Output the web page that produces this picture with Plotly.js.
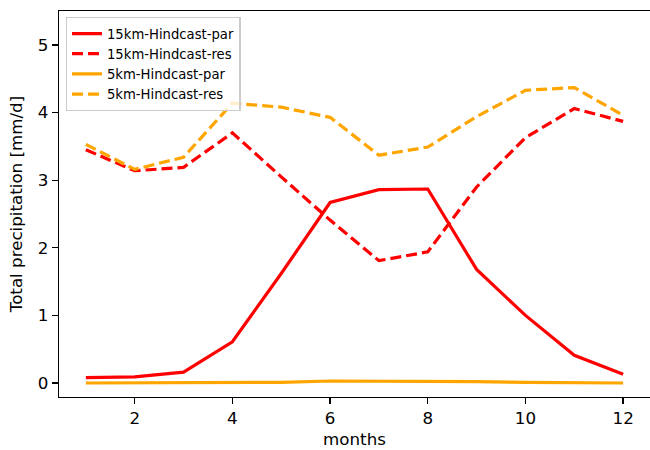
<!DOCTYPE html>
<html>
<head>
<script src="https://cdn.plot.ly/plotly-3.0.1.min.js"></script>
<style>body{margin:0;padding:0;background:#fff;overflow:hidden}</style>
</head>
<body>
<div id="chart" style="width:650px;height:450px"></div>
<script>
const months = [1,2,3,4,5,6,7,8,9,10,11,12];
const par15 = [0.08,0.09,0.16,0.61,1.62,2.67,2.86,2.87,1.68,1.00,0.41,0.13];
const res15 = [3.45,3.14,3.19,3.70,3.05,2.41,1.81,1.94,2.90,3.63,4.06,3.87];
const par5  = [0.00,0.00,0.00,0.00,0.01,0.03,0.03,0.03,0.02,0.01,0.00,0.00];
const res5  = [3.53,3.16,3.34,4.14,4.08,3.93,3.37,3.49,3.94,4.33,4.37,3.96];
const names = ['15km-Hindcast-par','15km-Hindcast-res','5km-Hindcast-par','5km-Hindcast-res'];
const xTicks = [2,4,6,8,10,12];
const yTicks = [0,1,2,3,4,5];

const dashStyle = '11px,5px';
const lw = 3.2;
const traces = [
  {x: months, y: par15, name: names[0], mode: 'lines', line: {color: '#ff0000', width: lw}},
  {x: months, y: res15, name: names[1], mode: 'lines', line: {color: '#ff0000', width: lw, dash: dashStyle}},
  {x: months, y: par5, name: names[2], mode: 'lines', line: {color: '#ffa500', width: lw}},
  {x: months, y: res5, name: names[3], mode: 'lines', line: {color: '#ffa500', width: lw, dash: dashStyle}}
];

const fontFam = 'DejaVu Sans';
const axisCommon = {
  showline: true, linecolor: '#000', linewidth: 1.3, mirror: true,
  ticks: 'outside', ticklen: 6, tickwidth: 1.3, tickcolor: '#000',
  showgrid: false, zeroline: false, automargin: false,
  tickfont: {family: fontFam, size: 16.7, color: '#000'}
};

const layout = {
  width: 650, height: 450,
  margin: {l: 59, r: 0, t: 11, b: 53, pad: 0},
  paper_bgcolor: '#fff', plot_bgcolor: '#fff',
  xaxis: Object.assign({}, axisCommon, {
    range: [0.45, 12.55], tickvals: xTicks,
    title: {text: 'months', font: {family: fontFam, size: 16.7, color: '#000'}, standoff: 6}
  }),
  yaxis: Object.assign({}, axisCommon, {
    range: [-0.207, 5.503], tickvals: yTicks,
    title: {text: 'Total precipitation [mm/d]', font: {family: fontFam, size: 16.7, color: '#000'}, standoff: 11}
  }),
  showlegend: true,
  legend: {
    x: 0.0113, y: 0.984, xanchor: 'left', yanchor: 'top',
    bgcolor: 'rgba(255,255,255,0.8)', bordercolor: '#cccccc', borderwidth: 1.3,
    font: {family: fontFam, size: 13.2, color: '#000'},
    tracegroupgap: 0
  }
};

Plotly.newPlot('chart', traces, layout, {displayModeBar: false, staticPlot: true});
</script>
</body>
</html>
